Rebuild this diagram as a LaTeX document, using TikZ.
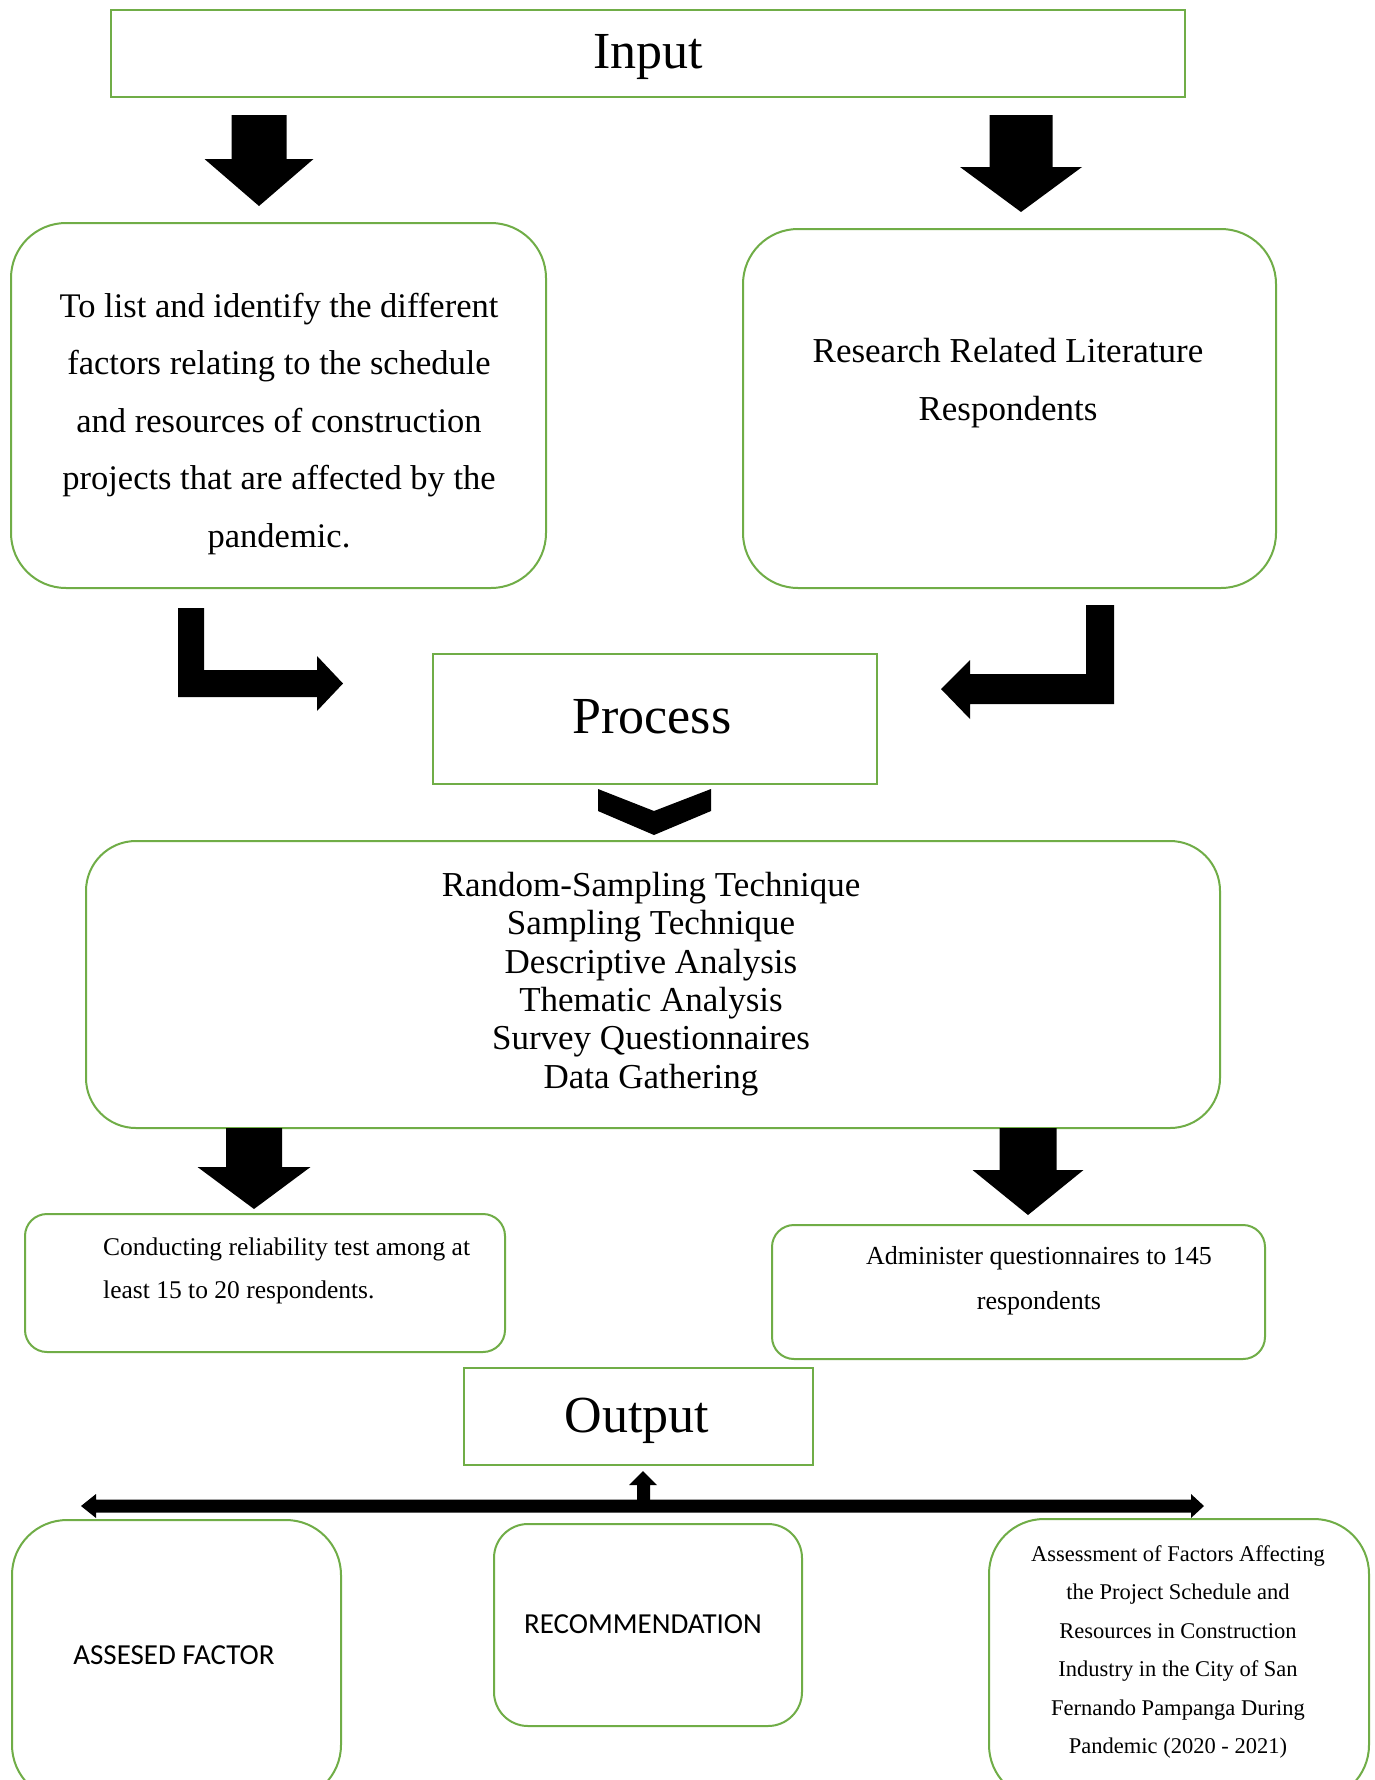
\documentclass[tikz,border=0pt]{standalone}
\usepackage{fontspec}
\setmainfont{Liberation Serif}
\newfontfamily\calib{Carlito}
\definecolor{boxgreen}{RGB}{112,173,71}
\tikzset{
  gbox/.style={draw=boxgreen, line width=2pt, inner sep=0pt, outer sep=0pt, fill=white},
  txt/.style={inner sep=0pt, align=center, text=black},
  bigtxt/.style={txt, font=\fontsize{52}{60}\selectfont},
}
\newcommand{\blockdown}[6]{%
  \fill (#1-#3/2,#2) -- (#1+#3/2,#2) -- (#1+#3/2,#4) -- (#1+#5/2,#4) -- (#1,#6)
     -- (#1-#5/2,#4) -- (#1-#3/2,#4) -- cycle;}
\begin{document}
\begin{tikzpicture}[x=1pt,y=-1pt]
\useasboundingbox (0,0) rectangle (1374,1780);
\fill[white] (0,0) rectangle (1374,1780);
\clip (0,0) rectangle (1374,1780);

% ---- Input
\node[gbox, minimum width=1074pt, minimum height=87pt] (input) at (648,53.5) {};
\node[bigtxt] (inputtxt) at (648,57.5) {Input};

\blockdown{259}{115}{55}{159}{109}{206}
\blockdown{1021}{115}{63}{167}{122}{212}

% ---- top rounded boxes
\node[gbox, rounded corners=55pt, minimum width=535pt, minimum height=365pt] (goal) at (278.5,405.5) {};
\node[txt, font=\fontsize{34.5}{57.5}\selectfont] (goaltxt) at (279,424)
  {To list and identify the different\\factors relating to the schedule\\and resources of construction\\projects that are affected by the\\pandemic.};

\node[gbox, rounded corners=55pt, minimum width=533pt, minimum height=359pt] (lit) at (1009.5,408.5) {};
\node[txt, font=\fontsize{35}{58}\selectfont] (littxt) at (1008,383)
  {Research Related Literature\\Respondents};

% ---- bent arrows
\fill (178,608) -- (204,608) -- (204,670) -- (317,670) -- (317,656) -- (343,683.5)
   -- (317,711) -- (317,697) -- (178,697) -- cycle;
\fill (1114,605) -- (1086,605) -- (1086,674) -- (970,674) -- (970,660) -- (941,689)
   -- (970,719) -- (970,704) -- (1114,704) -- cycle;

% ---- Process
\node[gbox, minimum width=444pt, minimum height=130pt] (process) at (655,719) {};
\node[bigtxt] (processtxt) at (652,717) {Process};

% chevron
\fill (598,789) -- (654,811) -- (711,789) -- (711,811) -- (654,835) -- (598,811) -- cycle;

% ---- methods box
\node[gbox, rounded corners=50pt, minimum width=1134pt, minimum height=287pt] (methods) at (653,984.5) {};
\node[txt, font=\fontsize{35}{38.4}\selectfont] (methtxt) at (651,984)
  {Random-Sampling Technique\\Sampling Technique\\Descriptive Analysis\\Thematic Analysis\\Survey Questionnaires\\Data Gathering};

\blockdown{254}{1128}{56}{1167}{113}{1209}
\blockdown{1028}{1128}{57}{1170}{111}{1215}

% ---- small boxes
\node[gbox, rounded corners=22pt, minimum width=480pt, minimum height=138pt] (reliab) at (265,1283) {};
\node[txt, align=left, anchor=west, font=\fontsize{25.5}{43}\selectfont] (reltxt) at (103,1271)
  {Conducting reliability test among at\\least 15 to 20 respondents.};

\node[gbox, rounded corners=22pt, minimum width=493pt, minimum height=134pt] (admin) at (1018.5,1292) {};
\node[txt, font=\fontsize{26}{45}\selectfont] (admtxt) at (1039,1281)
  {Administer questionnaires to 145\\respondents};

% ---- Output
\node[gbox, minimum width=349pt, minimum height=97pt] (output) at (638.5,1416.5) {};
\node[bigtxt] (outputtxt) at (637,1421) {Output};

% double arrow bar and up arrow
\fill (81,1506) -- (96,1494) -- (96,1499.5) -- (1191,1499.5) -- (1191,1494) -- (1204,1506)
   -- (1191,1518) -- (1191,1512.5) -- (96,1512.5) -- (96,1518) -- cycle;
\fill (637,1500) -- (637,1485) -- (629,1485) -- (643,1471) -- (657,1485) -- (650,1485)
   -- (650,1500) -- cycle;

% ---- bottom boxes
\node[gbox, rounded corners=55pt, minimum width=329pt, minimum height=280pt] (factor) at (176.5,1660) {};
\node[txt, font=\calib\fontsize{29}{34}\selectfont] (factxt) at (174,1655) {ASSESED FACTOR};

\node[gbox, rounded corners=34pt, minimum width=308pt, minimum height=202pt] (recom) at (648,1625) {};
\node[txt, font=\calib\fontsize{29}{34}\selectfont] (rectxt) at (643,1624) {RECOMMENDATION};

\node[gbox, rounded corners=55pt, minimum width=380pt, minimum height=281pt] (assess) at (1179,1659.5) {};
\node[txt, font=\fontsize{22.5}{38.4}\selectfont] (asstxt) at (1178,1652)
  {Assessment of Factors Affecting\\the Project Schedule and\\Resources in Construction\\Industry in the City of San\\Fernando Pampanga During\\Pandemic (2020 - 2021)};
\end{tikzpicture}
\end{document}
